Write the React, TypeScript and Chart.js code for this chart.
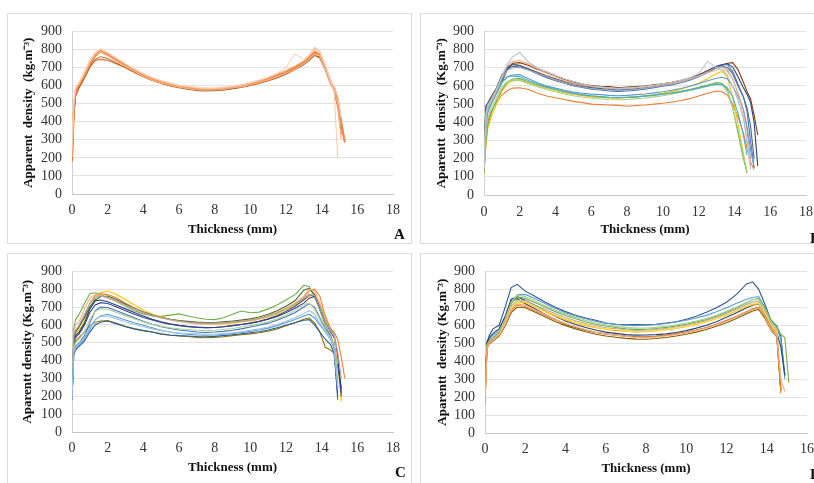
import React, { useEffect, useRef } from 'react';
import { Chart, registerables } from 'chart.js';
Chart.register(...registerables);

const SERIF = "'Liberation Serif', 'Times New Roman', serif";

// Shared thickness grid (mm)
const THICKNESS_MM = [0, 0.1, 0.2, 0.4, 0.7, 1.0, 1.3, 1.6, 2.0, 2.5, 3.0, 3.5, 4.0, 4.5, 5.0, 5.5, 6.0, 6.5, 7.0, 7.5, 8.0, 8.5, 9.0, 9.5, 10.0, 10.5, 11.0, 11.5, 12.0, 12.5, 13.0, 13.3, 13.6, 13.9, 14.2, 14.5, 14.7, 14.9, 15.1, 15.3];

const X_TICKS_18 = [0, 2, 4, 6, 8, 10, 12, 14, 16, 18];
const Y_TICKS = [0, 100, 200, 300, 400, 500, 600, 700, 800, 900];

// ---------- Panel A ----------
const A1 = [185,450,565,600,650,715,765,790,775,745,712,688,655,640,620,610,596,592,581,582,578,586,588,600,608,624,634,655,670,700,726,755,782,772,702,620,588,525,390,285];
const A2 = [200,480,580,610,665,730,775,785,765,735,705,680,650,630,615,603,592,585,578,575,577,580,588,593,605,618,632,650,668,690,722,748,775,765,690,612,575,500,300,null];
const A3 = [300,520,590,615,670,735,780,800,780,750,720,690,665,642,628,612,600,594,588,583,585,588,595,602,615,628,645,668,700,775,745,770,815,790,710,630,560,200,null,null];
const A4 = [190,430,540,585,640,700,745,760,750,725,698,672,648,628,612,598,588,580,572,570,572,575,582,590,600,612,626,642,662,688,715,740,765,760,695,615,578,510,360,null];
const A5 = [180,470,575,605,660,725,772,795,772,740,708,678,652,632,618,604,594,586,578,576,578,582,586,596,606,620,638,660,682,706,732,758,790,775,705,625,590,530,400,290];
const A6 = [250,500,585,620,680,745,785,805,785,752,722,694,668,645,626,614,602,596,590,586,588,592,598,606,618,632,648,666,686,710,740,768,795,780,712,630,592,540,420,null];
const A7 = [180,440,560,595,645,705,740,745,740,720,700,675,650,630,614,600,590,582,576,574,575,578,584,592,602,615,630,646,666,690,718,742,770,752,688,610,570,480,330,null];
const A8 = [220,460,570,605,655,720,768,792,778,748,716,684,660,636,620,606,596,588,582,578,580,584,592,600,612,626,642,664,684,708,736,770,805,790,712,628,586,515,370,null];
const A_SERIES = [A3, A6, A8, A2, A4, A7, A5, A1];
const A_COLORS = ['#F8CBAD', '#F9D2B6', '#F2A071', '#F4B183', '#B5651D', '#D9773A', '#EF8A4A', '#ED7D31'];
const A_WIDTHS = [1, 1, 1, 1.2, 1, 1.2, 1.5, 2];

// ---------- Panel B ----------
const B1 = [150,420,490,520,580,650,720,760,785,730,700,680,660,640,625,612,600,595,590,585,588,592,598,604,612,620,632,645,668,735,700,690,660,600,520,420,300,150,null,null];
const B2 = [170,480,500,540,560,620,690,725,728,712,690,672,652,635,622,610,602,598,596,590,594,596,600,606,612,620,630,644,660,678,700,712,725,728,690,620,570,530,440,330];
const B3 = [140,400,480,520,570,630,690,708,705,690,665,645,628,615,600,592,582,578,572,570,572,576,582,590,598,606,618,632,650,672,700,715,718,680,610,540,460,300,150,null];
const B4 = [160,470,495,530,575,640,700,718,712,690,668,650,632,618,605,596,590,585,580,578,580,584,590,596,604,612,624,640,660,685,708,718,722,705,650,590,555,510,400,160];
const B5 = [130,300,400,460,510,550,575,588,590,580,560,545,535,525,515,508,500,497,495,493,488,492,495,500,505,512,520,530,545,560,572,568,550,500,430,340,260,180,140,null];
const B6 = [150,420,480,515,570,650,710,735,740,720,695,670,650,630,615,605,598,592,588,586,588,590,595,600,608,615,625,640,655,672,688,692,680,640,560,440,300,140,null,null];
const B7 = [120,280,380,450,520,580,620,638,640,622,605,592,580,568,558,550,545,540,536,535,538,540,545,550,556,562,570,580,592,605,618,615,580,480,340,200,125,null,null,null];
const B8 = [130,260,360,430,500,570,610,628,632,615,598,585,572,562,553,546,540,537,534,533,536,540,546,552,560,570,582,598,615,640,668,680,650,540,390,230,120,null,null,null];
const B9 = [140,350,450,500,560,620,650,660,662,640,618,600,588,576,566,560,555,552,548,546,548,552,556,562,568,576,586,598,612,628,642,648,640,600,540,470,380,250,150,null];
const B10 = [180,450,495,530,580,640,685,700,702,686,668,650,632,618,604,594,586,582,578,576,578,582,588,594,602,610,622,636,655,678,700,706,690,640,560,470,360,200,null,null];
const B11 = [150,380,470,505,560,620,650,655,650,630,612,596,582,570,560,552,546,542,538,536,538,540,544,548,554,560,568,578,588,600,610,608,590,540,450,330,220,null,null,null];
const B12 = [160,490,505,540,590,660,705,720,712,695,675,656,640,624,612,602,596,592,588,586,588,592,598,604,610,618,628,642,660,682,700,708,702,668,600,540,480,380,200,null];
const B13 = [140,320,420,480,540,595,625,632,630,612,596,580,568,556,546,538,532,528,525,524,526,530,534,540,546,554,564,574,586,598,608,604,570,480,360,220,130,null,null,null];
const B_SERIES = [B1, B6, B10, B11, B13, B9, B7, B8, B5, B3, B12, B4, B2];
const B_COLORS = ['#B4C3D6', '#F4B183', '#A5A5A5', '#4BACC6', '#A9D18E', '#5B9BD5', '#70AD47', '#FFC000', '#ED7D31', '#4472C4', '#636363', '#264478', '#843C0C'];

// ---------- Panel C ----------
const C1 = [200,580,630,660,720,775,780,770,752,730,705,680,662,650,648,655,662,650,640,632,630,640,660,678,668,672,690,712,740,770,822,815,760,680,600,540,480,360,250,null];
const C2 = [190,500,540,570,620,690,750,780,790,770,742,712,682,660,645,632,622,615,608,605,604,606,610,616,622,632,645,662,685,710,740,760,770,720,640,580,540,400,170,null];
const C3 = [220,520,560,590,650,720,765,775,770,752,722,695,672,655,640,630,622,616,612,610,608,612,618,622,628,638,650,668,690,720,755,790,800,760,650,580,560,520,420,300];
const C4 = [190,480,510,530,560,595,615,622,625,610,592,578,568,560,548,542,538,535,530,528,530,534,540,545,550,556,565,578,595,612,632,640,612,560,475,460,440,250,null,null];
const C5 = [180,450,480,500,540,610,680,700,698,680,660,640,620,604,590,580,572,566,560,558,560,564,570,578,588,598,610,626,646,668,700,718,700,640,580,540,480,180,null,null];
const C6 = [190,440,470,490,520,575,630,650,660,645,628,612,598,584,570,560,552,548,544,542,544,548,552,558,564,572,582,596,612,630,650,660,640,600,560,520,460,250,null,null];
const C7 = [200,520,540,560,610,690,735,740,730,710,690,670,650,632,618,606,598,592,588,585,586,590,596,602,610,620,634,652,676,704,740,770,760,700,620,570,540,420,220,null];
const C8 = [180,430,460,480,510,560,600,615,622,606,590,578,568,560,550,544,540,538,535,534,536,540,545,550,556,562,572,584,598,612,626,630,600,560,520,490,440,200,null,null];
const C9 = [210,540,570,600,660,720,755,762,755,735,710,690,670,652,640,630,622,616,612,610,610,612,616,620,626,636,650,668,690,716,748,770,765,700,620,570,550,450,300,null];
const C10 = [200,560,600,620,690,750,770,765,750,730,708,688,668,652,640,628,618,612,606,604,604,608,614,620,628,638,652,670,694,722,760,800,790,720,630,570,540,380,null,null];
const C11 = [190,500,530,550,600,670,712,725,720,700,680,660,642,628,614,604,596,590,586,584,586,590,596,602,610,620,632,648,668,694,722,750,760,700,620,560,530,400,200,null];
const C12 = [190,470,500,520,560,630,675,690,688,670,652,634,618,604,592,584,578,574,570,568,570,574,580,588,596,606,618,634,654,680,715,722,690,630,570,530,490,300,null,null];
const C13 = [200,520,560,590,640,700,740,758,762,742,716,692,672,656,642,632,625,620,616,614,614,618,622,628,634,644,660,680,705,735,795,805,770,700,620,570,540,400,240,null];
const C14 = [180,450,475,495,530,590,630,648,650,634,618,604,590,578,568,560,555,552,550,548,548,552,556,562,570,578,588,602,620,640,664,680,660,610,560,520,470,250,null,null];
const C_SERIES = [C14, C6, C8, C12, C9, C10, C5, C11, C7, C13, C3, C2, C4, C1];
const C_COLORS = ['#9DC3E6', '#5B9BD5', '#255E91', '#A9D18E', '#A5A5A5', '#F4B183', '#4472C4', '#3B3F8C', '#264478', '#43682B', '#ED7D31', '#FFC000', '#997300', '#70AD47'];

// ---------- Panel D ----------
const D1 = [250,500,540,580,600,700,810,828,790,760,728,700,676,656,640,628,612,606,602,604,602,606,612,620,634,650,672,698,728,772,830,842,800,720,630,595,540,320,null,null];
const D2 = [220,500,520,545,570,640,720,770,772,748,720,694,670,652,636,622,612,606,600,598,600,604,610,618,628,640,655,675,698,722,745,755,760,700,630,590,520,300,null,null];
const D3 = [200,490,510,530,560,630,720,758,750,725,700,676,654,636,620,606,596,588,580,577,578,582,588,596,606,618,632,650,672,698,725,742,750,700,630,590,550,530,280,null];
const D4 = [160,470,500,520,550,610,690,725,728,700,675,652,630,614,598,586,576,570,565,562,564,568,574,582,592,604,618,636,656,680,705,715,720,670,600,560,230,null,null,null];
const D5 = [180,480,505,520,545,600,680,712,705,680,655,630,608,590,574,560,550,544,538,535,534,538,544,552,562,574,588,606,626,650,676,692,700,660,590,545,220,null,null,null];
const D6 = [170,470,500,518,545,605,690,718,712,685,660,634,610,592,576,562,552,545,538,532,530,534,540,548,558,570,584,602,622,646,672,688,696,650,580,540,300,230,null,null];
const D7 = [200,500,515,530,560,640,735,748,720,690,660,632,606,588,572,560,552,546,540,536,534,538,544,552,560,572,586,604,626,648,672,690,698,650,580,540,240,null,null,null];
const D8 = [230,510,530,555,580,650,745,758,740,710,680,650,624,604,588,574,562,555,548,545,546,548,552,560,570,584,600,620,644,670,698,712,718,670,600,560,480,320,null,null];
const D9 = [190,490,510,535,565,635,728,768,760,735,708,684,662,644,628,614,602,594,588,584,585,588,594,602,612,624,638,656,678,702,728,742,746,690,620,580,300,null,null,null];
const D10 = [180,480,505,525,555,620,705,740,738,712,688,664,642,625,610,596,586,580,574,570,572,576,582,590,600,612,626,644,666,690,716,730,735,680,610,570,260,null,null,null];
const D11 = [170,470,495,512,540,595,670,700,698,672,646,620,598,580,564,550,540,533,527,523,522,526,532,540,550,562,576,594,614,638,664,680,688,640,575,535,235,null,null,null];
const D12 = [150,460,495,518,548,612,700,735,732,705,680,658,636,620,604,592,582,576,570,567,568,572,578,586,596,608,622,640,660,684,708,720,726,672,604,565,240,null,null,null];
const D_SERIES = [D6, D5, D11, D12, D4, D10, D9, D3, D7, D8, D2, D1];
const D_COLORS = ['#F4B183', '#ED7D31', '#7F6000', '#FFD966', '#FFC000', '#A5A5A5', '#A9D18E', '#70AD47', '#404040', '#264478', '#5B9BD5', '#2F5597'];

type PanelSpec = {
  series: (number | null)[][];
  colors: string[];
  widths?: number[];
  xMax: number;
  yTitle: string;
  label: string;
  cLeft: number; cTop: number; cW: number; cH: number;
  padTop: number; padRight: number; yWidth: number; xHeight: number;
  xTickPad: number; xTitlePad: number; yTitlePad: number;
  boxLeft: number; boxTop: number; boxW: number; boxH: number;
  labelLeft: number; labelTop: number;
};

const PANELS: PanelSpec[] = [
  {
    series: A_SERIES, colors: A_COLORS, widths: A_WIDTHS, xMax: 18,
    yTitle: 'Apparent  density  (kg.m\u207B\u00B3)', label: 'A',
    cLeft: 7, cTop: 13, cW: 405, cH: 230, padTop: 12, padRight: 19, yWidth: 65, xHeight: 49,
    xTickPad: 0, xTitlePad: 6, yTitlePad: 14,
    boxLeft: 7, boxTop: 13, boxW: 405, boxH: 231, labelLeft: 394, labelTop: 227,
  },
  {
    series: B_SERIES, colors: B_COLORS, xMax: 18,
    yTitle: 'Aparentt  density  (Kg.m\u207B\u00B3)', label: 'B',
    cLeft: 420, cTop: 13, cW: 394, cH: 230, padTop: 12, padRight: 8, yWidth: 64, xHeight: 48,
    xTickPad: 1, xTitlePad: 6, yTitlePad: 14,
    boxLeft: 420, boxTop: 13, boxW: 420, boxH: 231, labelLeft: 810, labelTop: 231,
  },
  {
    series: C_SERIES, colors: C_COLORS, xMax: 18,
    yTitle: 'Aparentt density (Kg.m\u207B\u00B3)', label: 'C',
    cLeft: 7, cTop: 253, cW: 405, cH: 230, padTop: 12, padRight: 19, yWidth: 65, xHeight: 51,
    xTickPad: 0, xTitlePad: 8, yTitlePad: 13,
    boxLeft: 7, boxTop: 253, boxW: 405, boxH: 260, labelLeft: 395, labelTop: 465,
  },
  {
    series: D_SERIES, colors: D_COLORS, xMax: 16,
    yTitle: 'Aparentt  density (Kg.m\u207B\u00B3)', label: 'D',
    cLeft: 420, cTop: 253, cW: 410, cH: 230, padTop: 13, padRight: 23, yWidth: 65, xHeight: 50,
    xTickPad: 0, xTitlePad: 7, yTitlePad: 15,
    boxLeft: 420, boxTop: 253, boxW: 420, boxH: 260, labelLeft: 810, labelTop: 467,
  },
];

function buildConfig(p: PanelSpec): any {
  const datasets = p.series.map((vals, i) => ({
    data: vals
      .map((y, k) => (y === null ? null : { x: THICKNESS_MM[k], y }))
      .filter((pt) => pt !== null),
    borderColor: p.colors[i],
    borderWidth: p.widths ? p.widths[i] : 1.1,
    pointRadius: 0,
    tension: 0,
    fill: false,
  }));
  const tickFont = { family: SERIF, size: 14 };
  const titleFont = { family: SERIF, size: 13, weight: 'bold' as const };
  return {
    type: 'line',
    data: { datasets },
    options: {
      responsive: false,
      animation: false,
      devicePixelRatio: 1,
      events: [],
      layout: { padding: { top: p.padTop, right: p.padRight, left: 0, bottom: 0 } },
      plugins: { legend: { display: false }, tooltip: { enabled: false }, title: { display: false } },
      scales: {
        x: {
          type: 'linear',
          min: 0,
          max: p.xMax,
          afterBuildTicks: (s: any) => {
            s.ticks = X_TICKS_18.filter((v) => v <= p.xMax).map((v) => ({ value: v }));
          },
          ticks: { padding: p.xTickPad, color: '#333333', font: tickFont, maxRotation: 0, autoSkip: false },
          grid: { display: false },
          border: { display: true, color: '#c6c6c6', width: 1 },
          title: {
            display: true, text: 'Thickness (mm)', color: '#111111', font: titleFont,
            padding: { top: 0, bottom: p.xTitlePad },
          },
          afterFit: (s: any) => { s.height = p.xHeight; },
        },
        y: {
          type: 'linear',
          min: 0,
          max: 900,
          afterBuildTicks: (s: any) => {
            s.ticks = Y_TICKS.map((v) => ({ value: v }));
          },
          ticks: { padding: 10, color: '#333333', font: tickFont, autoSkip: false },
          grid: { color: '#e2e2e2', drawTicks: false, lineWidth: 1 },
          border: { display: true, color: '#cfcfcf', width: 1 },
          title: {
            display: true, text: p.yTitle, color: '#111111', font: titleFont,
            padding: { top: p.yTitlePad, bottom: 0 },
          },
          afterFit: (s: any) => { s.width = p.yWidth; },
        },
      },
    },
  };
}

function Panel({ p }: { p: PanelSpec }) {
  const ref = useRef<HTMLCanvasElement | null>(null);
  useEffect(() => {
    if (!ref.current) return;
    const chart = new Chart(ref.current, buildConfig(p));
    return () => chart.destroy();
  }, [p]);
  return (
    <>
      <div
        style={{
          position: 'absolute', left: p.boxLeft, top: p.boxTop, width: p.boxW, height: p.boxH,
          border: '1px solid #dcdcdc', boxSizing: 'border-box',
        }}
      />
      <canvas
        ref={ref}
        width={p.cW}
        height={p.cH}
        style={{ position: 'absolute', left: p.cLeft, top: p.cTop, width: p.cW, height: p.cH }}
      />
      <div
        style={{
          position: 'absolute', left: p.labelLeft, top: p.labelTop, fontFamily: SERIF,
          fontWeight: 'bold', fontSize: 15, lineHeight: '15px', color: '#111',
        }}
      >
        {p.label}
      </div>
    </>
  );
}

export default function App() {
  return (
    <div
      style={{
        position: 'fixed', left: 0, top: 0, width: 814, height: 483, overflow: 'hidden',
        background: '#ffffff',
      }}
    >
      {PANELS.map((p) => (
        <Panel key={p.label} p={p} />
      ))}
    </div>
  );
}
